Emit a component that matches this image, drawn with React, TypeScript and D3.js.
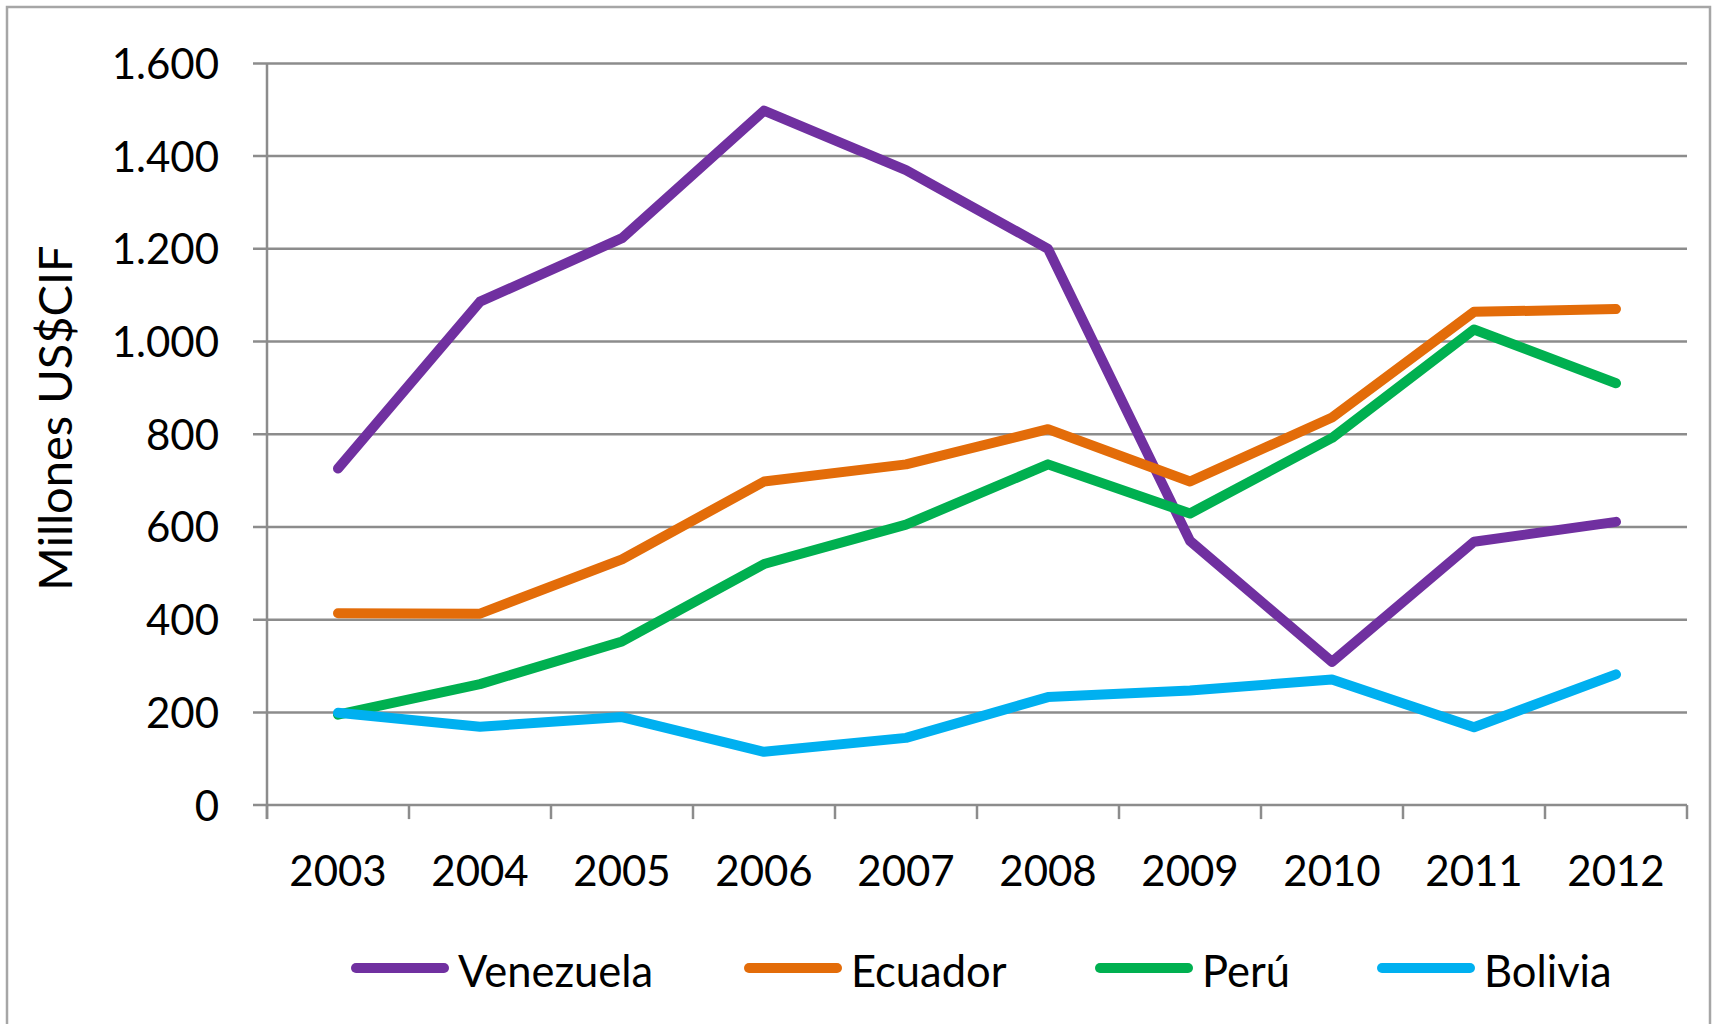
import React from "react";
import * as d3 from "d3";

const years = ["2003", "2004", "2005", "2006", "2007", "2008", "2009", "2010", "2011", "2012"];
const venezuela = [726, 1086, 1223, 1498, 1370, 1200, 570, 309, 568, 611];
const ecuador = [414, 413, 530, 698, 735, 811, 698, 836, 1064, 1070];
const peru = [195, 261, 353, 520, 605, 735, 629, 792, 1026, 910];
const bolivia = [199, 169, 190, 115, 145, 233, 247, 271, 168, 282];
const yTicks = [0, 200, 400, 600, 800, 1000, 1200, 1400, 1600];
const seriesNames = ["Venezuela", "Ecuador", "Perú", "Bolivia"];
const seriesColors = ["#7030A0", "#E36C09", "#00B050", "#00B0F0"];

const W = 1717;
const H = 1024;
const plotLeft = 267;
const plotRight = 1687;
const plotTop = 63.4;
const plotBottom = 805.1;
const legendX = [356, 749, 1100, 1382];
const FONT = "Lato, 'Open Sans', sans-serif";

const fmt = (v: number) => {
  const s = String(v);
  return s.length > 3 ? s.slice(0, s.length - 3) + "." + s.slice(-3) : s;
};

export default function App() {
  const x = d3.scaleBand<string>().domain(years).range([plotLeft, plotRight]).padding(0);
  const y = d3.scaleLinear().domain([0, 1600]).range([plotBottom, plotTop]);
  const series = [venezuela, ecuador, peru, bolivia];
  const line = d3
    .line<number>()
    .x((_, i) => (x(years[i]) as number) + x.bandwidth() / 2)
    .y((d) => y(d));
  const boundaries = years.map((yr) => x(yr) as number).concat([plotRight]);
  const grid = "#8c8c8c";

  return (
    <svg
      width={W}
      height={H}
      style={{ position: "absolute", left: 0, top: 0, background: "#fff" }}
      fontFamily={FONT}
    >
      <rect x={7} y={7} width={1703} height={1030} fill="#fff" stroke="#a6a6a6" strokeWidth={2.5} />
      {yTicks.map((t) => (
        <line key={"g" + t} x1={plotLeft - 14} x2={plotRight} y1={y(t)} y2={y(t)} stroke={grid} strokeWidth={2.5} />
      ))}
      <line x1={plotLeft} x2={plotLeft} y1={plotTop} y2={plotBottom + 14} stroke={grid} strokeWidth={2.5} />
      {boundaries.map((b, i) => (
        <line key={"t" + i} x1={b} x2={b} y1={plotBottom} y2={plotBottom + 14} stroke={grid} strokeWidth={2.5} />
      ))}
      {yTicks.map((t) => (
        <text key={"yl" + t} x={219} y={y(t) + 15.5} textAnchor="end" fontSize={42} fill="#000">
          {fmt(t)}
        </text>
      ))}
      {years.map((yr) => (
        <text key={"xl" + yr} x={(x(yr) as number) + x.bandwidth() / 2} y={886} textAnchor="middle" fontSize={42} fill="#000">
          {yr}
        </text>
      ))}
      <text transform={`translate(72, 418) rotate(-90)`} textAnchor="middle" fontSize={47} fill="#000">
        Millones US$CIF
      </text>
      {series.map((s, i) => (
        <path
          key={"s" + i}
          d={line(s) as string}
          fill="none"
          stroke={seriesColors[i]}
          strokeWidth={10}
          strokeLinecap="round"
          strokeLinejoin="round"
        />
      ))}
      {seriesNames.map((n, i) => (
        <g key={"lg" + n}>
          <line x1={legendX[i]} x2={legendX[i] + 88} y1={968} y2={968} stroke={seriesColors[i]} strokeWidth={10} strokeLinecap="round" />
          <text x={legendX[i] + 102} y={987} fontSize={43.5} fill="#000">
            {n}
          </text>
        </g>
      ))}
    </svg>
  );
}
